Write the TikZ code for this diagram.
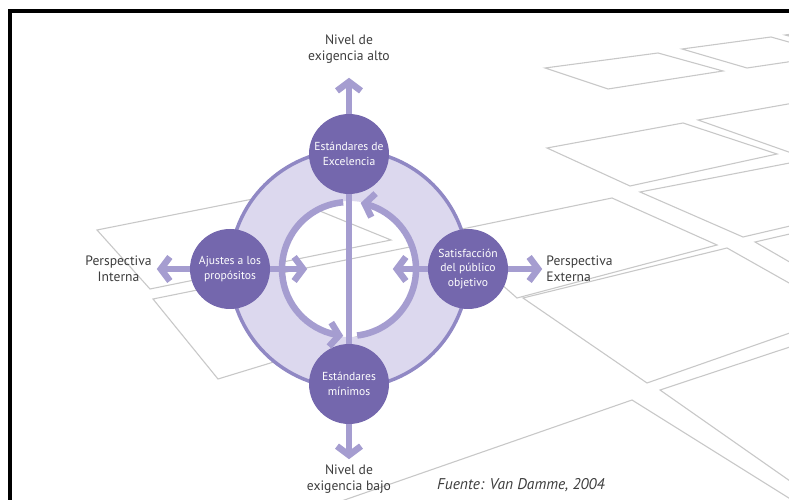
\documentclass[tikz,border=0pt]{standalone}
\usepackage{fontspec}
\setmainfont{PT Sans}
\usetikzlibrary{positioning,calc,arrows.meta,bending}
\definecolor{morado}{HTML}{7467AD}
\definecolor{lila}{HTML}{A59DD0}
\definecolor{borde}{HTML}{9088C4}
\definecolor{relleno}{HTML}{DCD8EE}
\definecolor{rejilla}{HTML}{C8C8C8}
\definecolor{texto}{HTML}{3C3C3C}

\begin{document}
\begin{tikzpicture}[x=1pt, y=1pt,
    etapa/.style={circle, fill=morado, minimum size=80pt, inner sep=0pt,
      text=white, align=center, font=\fontsize{11.6}{14.5}\selectfont},
    etiqueta/.style={text=texto, align=center, inner sep=0pt,
      font=\fontsize{13.6}{16.5}\selectfont},
    flecha/.style={draw=lila, line width=6.5pt,
      -{Straight Barb[length=9pt,width=24pt]}}]
    \useasboundingbox (0,0) rectangle (789,500);

    % rejilla del fondo (en pixeles)
    \begin{scope}[shift={(0,500)}, yscale=-1, rejilla, line width=1.1pt]
      \clip (11,13) rectangle (789,500);
      \draw (97,230) -- (278,194) -- (391,240) -- (150,289) -- cycle;
      \draw (153,299) -- (410,247) -- (490,296) -- (218,379) -- cycle;
      \draw (545,68) -- (658,53) -- (723,71) -- (608,89) -- cycle;
      \draw (682,49) -- (771,37) -- (835,55) -- (747,68) -- cycle;
      \draw (785,35) -- (880,23) -- (930,40) -- (850,52) -- cycle;
      \draw (547,148) -- (683,123) -- (777,154) -- (630,186) -- cycle;
      \draw (698,120) -- (850,93) -- (950,125) -- (800,156) -- cycle;
      \draw (640,192) -- (800,161) -- (880,205) -- (743,237) -- cycle;
      \draw (443,233) -- (612,198) -- (717,245) -- (517,298) -- cycle;
      \draw (755,242) -- (820,227) -- (880,262) -- (800,268) -- cycle;
      \draw (523,298) -- (727,248) -- (844,314) -- (647,383) -- cycle;
      \draw (660,390) -- (820,337) -- (950,420) -- (800,488) -- cycle;
      \draw (330,505) -- (632,400) -- (800,505) -- (500,600) -- cycle;
    \end{scope}
    \draw[line width=4pt] (9.5,0) -- (9.5,488.5) -- (789,488.5);

    % anillo
    \coordinate (c) at (349,231);
    \fill[relleno, even odd rule] (c) circle (119) (c) circle (68);
    \draw[borde, line width=3.5pt] (c) circle (119);

    \node[etapa] (exc) at ($(c)+(90:115)$) {Estándares de\\Excelencia};
    \node[etapa] (min) at ($(c)+(-90:115)$) {Estándares\\mínimos};
    \node[etapa] (aju) at ($(c)+(180:119)$) {Ajustes a los\\propósitos};
    \node[etapa] (sat) at ($(c)+(0:119)$) {Satisfacción\\del público\\objetivo};

    \node[etiqueta, above=50pt of exc] (alto) {Nivel de\\exigencia alto};
    \node[etiqueta, below=40pt of min] (bajo) {Nivel de\\exigencia bajo};
    \node[etiqueta, left=38pt of aju] (int) {Perspectiva\\Interna};
    \node[etiqueta, right=38pt of sat, align=left] (ext) {Perspectiva\\Externa};
    \node[text=texto, anchor=base west, inner sep=0pt,
      font=\fontsize{15.5}{18}\selectfont\itshape] (fuente) at (437,10)
      {Fuente: Van Damme, 2004};

    \coordinate (ai) at ($(aju.east)+(37,0)$);
    \coordinate (si) at ($(sat.west)+(-35,0)$);

    \draw[lila, line width=6pt] (exc) -- (min);
    \draw[flecha] ($(c)+(95:67)$) arc[start angle=95, end angle=265, radius=67];
    \draw[flecha] ($(c)+(-83:67)$) arc[start angle=-83, end angle=80, radius=67];

    \draw[flecha, shorten >=14pt] (exc) -- (alto);
    \draw[flecha, shorten >=5pt] (min) -- (bajo);
    \draw[flecha, shorten >=5pt] (aju) -- (int);
    \draw[flecha, shorten >=4pt] (sat) -- (ext);
    \draw[flecha] (aju) -- (ai);
    \draw[flecha] (sat) -- (si);
\end{tikzpicture}
\end{document}
